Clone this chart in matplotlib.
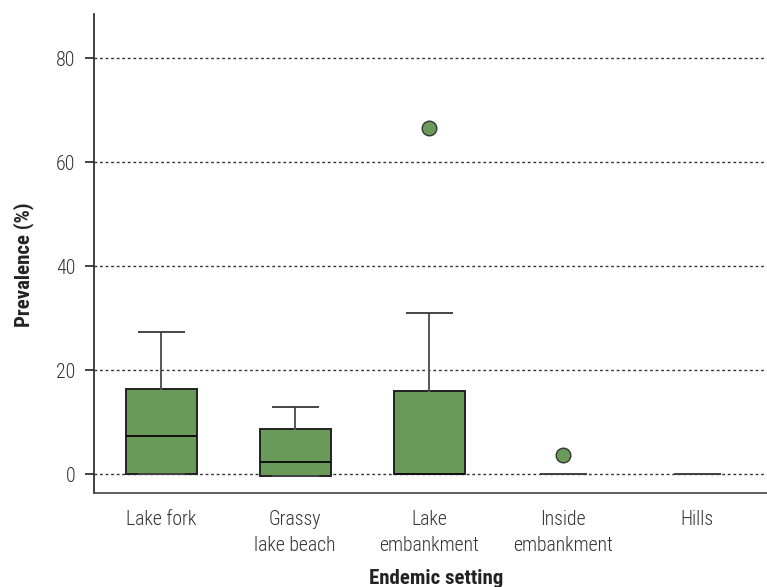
import matplotlib
matplotlib.use("Agg")
import matplotlib.pyplot as plt

categories = ["Lake fork", "Grassy\nlake beach", "Lake\nembankment", "Inside\nembankment", "Hills"]
q1 = [0.0, -0.3, 0.0, 0.0, 0.0]
medians = [7.4, 2.4, 0.0, 0.0, 0.0]
q3 = [16.3, 8.6, 16.0, 0.0, 0.0]
whis_lo = [0.0, -0.3, 0.0, 0.0, 0.0]
whis_hi = [27.3, 12.9, 31.0, 0.0, 0.0]
outliers = [[], [], [66.5], [3.7], []]
yticks = [0, 20, 40, 60, 80]

plt.rcParams['font.family'] = ['Roboto Condensed', 'Open Sans', 'DejaVu Sans']

fig = plt.figure(figsize=(7.67, 5.87), dpi=100)
ax = fig.add_axes([94/767, (587-493)/587, 1 - 94/767, (493-14)/587])

green = "#6a9a58"
stats = []
for i, c in enumerate(categories):
    stats.append(dict(label=c, q1=q1[i], med=medians[i], q3=q3[i],
                      whislo=whis_lo[i], whishi=whis_hi[i], fliers=outliers[i]))

positions = list(range(len(categories)))
res = ax.bxp(stats, positions=positions, widths=0.53, capwidths=0.336,
             patch_artist=True, showfliers=True,
             boxprops=dict(facecolor=green, edgecolor="#222222", linewidth=1.4),
             medianprops=dict(color="#111111", linewidth=1.4),
             whiskerprops=dict(color="#555555", linewidth=1.4),
             capprops=dict(color="#444444", linewidth=1.4),
             flierprops=dict(marker="o", markerfacecolor=green, markeredgecolor="#333333",
                             markersize=10.5, markeredgewidth=1.0, linestyle="none"))

for i in range(len(categories)):
    if q1[i] == q3[i]:
        res['boxes'][i].set_visible(False)
        res['medians'][i].set_visible(False)
        res['caps'][2*i].set_color("#111111")

ax.set_xlim(-0.5, 4.52)
ax.set_ylim(-3.65, 88.5)
ax.set_yticks(yticks)
ax.set_xticks(positions)
ax.set_xticklabels(categories, linespacing=1.5)
ax.yaxis.grid(True, linestyle=(0, (2, 2)), color="#333333", linewidth=1.0)
ax.set_axisbelow(True)

for s in ["top", "right"]:
    ax.spines[s].set_visible(False)
ax.spines["left"].set_color("#222222")
ax.spines["left"].set_linewidth(1.2)
ax.spines["bottom"].set_color("#444444")
ax.spines["bottom"].set_linewidth(1.2)

ax.tick_params(axis="x", length=0, pad=12, labelsize=14.2, colors="#333333")
ax.tick_params(axis="y", length=6.5, width=1.2, pad=7, labelsize=14.4, colors="#222222")
for lab in ax.get_xticklabels() + ax.get_yticklabels():
    lab.set_fontweight("light")
for lab in ax.get_yticklabels():
    lab.set_color("#333333")

ax.set_xlabel("Endemic setting", fontsize=15, fontweight="bold", color="#222222")
ax.set_ylabel("Prevalence (%)", fontsize=15, fontweight="bold", color="#222222")
ax.yaxis.set_label_coords(-0.089, 0.476)
ax.xaxis.set_label_coords(0.508, -0.158)

fig.savefig("out.png", dpi=100)
